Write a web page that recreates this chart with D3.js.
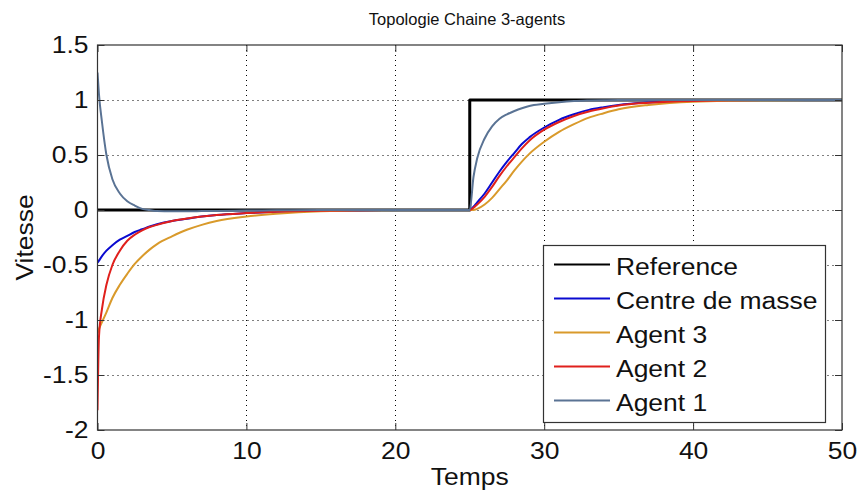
<!DOCTYPE html>
<html>
<head>
<meta charset="utf-8">
<script src="https://cdn.jsdelivr.net/npm/d3@7"></script>
<style>
  html, body { margin: 0; padding: 0; background: #fff; }
  svg { display: block; }
  text { font-family: "Liberation Sans", Arial, Helvetica, sans-serif; fill: #111; }
</style>
</head>
<body>
<svg id="chart" width="858" height="494"></svg>
<script>
// Simulation time samples (s)
const temps = [0, 0.1, 0.3, 0.6, 1, 1.5, 2, 2.5, 3, 3.5, 4, 5, 6, 7, 8, 10, 12, 15, 20, 25,
  25.25, 25.5, 26, 26.5, 27, 27.5, 28, 28.5, 29, 30, 31, 32, 33, 34, 35, 37, 40, 45, 50];

// Velocity of each trace at those instants
const agent1 = [1.25, 1.05, 0.8, 0.5, 0.28, 0.15, 0.08, 0.04, 0.01, 0, -0.01, -0.012, -0.012, -0.01, -0.008, -0.005, -0.003, 0, 0, 0,
  0.3, 0.47, 0.65, 0.76, 0.83, 0.87, 0.9, 0.925, 0.945, 0.965, 0.98, 0.99, 0.995, 0.998, 1, 1, 1, 1, 1];
const agent2 = [-1.82, -1.15, -0.9, -0.68, -0.5, -0.37, -0.28, -0.225, -0.185, -0.155, -0.135, -0.1, -0.078, -0.06, -0.045, -0.028, -0.016, -0.006, 0, 0,
  0.02, 0.05, 0.12, 0.21, 0.31, 0.4, 0.48, 0.56, 0.63, 0.73, 0.8, 0.855, 0.895, 0.925, 0.95, 0.975, 0.992, 1, 1];
const agent3 = [-1.12, -1.08, -1.02, -0.93, -0.8, -0.68, -0.58, -0.49, -0.42, -0.36, -0.31, -0.24, -0.18, -0.135, -0.1, -0.06, -0.035, -0.012, 0, 0,
  0, 0.01, 0.05, 0.11, 0.19, 0.27, 0.36, 0.44, 0.51, 0.62, 0.71, 0.78, 0.84, 0.88, 0.915, 0.955, 0.985, 0.998, 1];
const centreMasse = [-0.48, -0.46, -0.42, -0.37, -0.32, -0.27, -0.235, -0.2, -0.175, -0.15, -0.13, -0.1, -0.08, -0.06, -0.045, -0.028, -0.016, -0.006, 0, 0,
  0.03, 0.07, 0.15, 0.25, 0.35, 0.44, 0.52, 0.6, 0.66, 0.75, 0.82, 0.87, 0.91, 0.935, 0.955, 0.978, 0.993, 1, 1];

// Step reference: 0 until t = 25, then 1
const refTemps = [0, 25, 25, 50];
const refValeurs = [0, 0, 1, 1];

const xTicks = [0, 10, 20, 30, 40, 50];
const yTicks = [-2, -1.5, -1, -0.5, 0, 0.5, 1, 1.5];
const yTickLabels = ["-2", "-1.5", "-1", "-0.5", "0", "0.5", "1", "1.5"];

const titre = "Topologie Chaine 3-agents";
const labelX = "Temps";
const labelY = "Vitesse";

const seriesNames = ["Reference", "Centre de masse", "Agent 3", "Agent 2", "Agent 1"];
const seriesColors = ["#000000", "#0a0ad0", "#d99a2b", "#e0201c", "#5a7394"];

const series = [
  { name: seriesNames[0], color: seriesColors[0], width: 3, pts: refTemps.map((t, i) => [t, refValeurs[i]]) },
  { name: seriesNames[1], color: seriesColors[1], width: 2, pts: temps.map((t, i) => [t, centreMasse[i]]) },
  { name: seriesNames[2], color: seriesColors[2], width: 2, pts: temps.map((t, i) => [t, agent3[i]]) },
  { name: seriesNames[3], color: seriesColors[3], width: 2, pts: temps.map((t, i) => [t, agent2[i]]) },
  { name: seriesNames[4], color: seriesColors[4], width: 2, pts: temps.map((t, i) => [t, agent1[i]]) }
];

const svg = d3.select("#chart");
const m = { left: 97.5, right: 842, top: 45, bottom: 430 };

const x = d3.scaleLinear().domain([0, 50]).range([m.left, m.right]);
const y = d3.scaleLinear().domain([-2, 1.5]).range([m.bottom, m.top]);

// Dotted grid
const grid = svg.append("g").attr("stroke", "#000").attr("stroke-width", 1).attr("stroke-dasharray", "1,4");
grid.selectAll(".gx").data(xTicks.slice(1, -1)).join("line")
  .attr("x1", d => Math.round(x(d)) + 0.5).attr("x2", d => Math.round(x(d)) + 0.5)
  .attr("y1", m.top).attr("y2", m.bottom);
grid.selectAll(".gy").data(yTicks.slice(1, -1)).join("line")
  .attr("y1", d => Math.round(y(d)) + 0.5).attr("y2", d => Math.round(y(d)) + 0.5)
  .attr("x1", m.left).attr("x2", m.right);

// Data lines
const clip = svg.append("clipPath").attr("id", "plotclip").append("rect")
  .attr("x", m.left).attr("y", m.top).attr("width", m.right - m.left).attr("height", m.bottom - m.top);
const line = d3.line().x(d => x(d[0])).y(d => y(d[1])).curve(d3.curveMonotoneX);
const lineStep = d3.line().x(d => x(d[0])).y(d => y(d[1]));
svg.append("g").attr("clip-path", "url(#plotclip)")
  .selectAll("path").data(series).join("path")
  .attr("fill", "none")
  .attr("stroke", d => d.color)
  .attr("stroke-width", d => d.width)
  .attr("stroke-linejoin", "round")
  .attr("d", (d, i) => i === 0 ? lineStep(d.pts) : line(d.pts));

// Axes (inward ticks on all four sides)
const tickLen = 7;
const axisBottom = d3.axisBottom(x).tickValues(xTicks).tickSize(-tickLen).tickPadding(13).tickFormat(d3.format("d"));
const axisTop = d3.axisTop(x).tickValues(xTicks).tickSize(-tickLen).tickFormat("");
const axisLeft = d3.axisLeft(y).tickValues(yTicks).tickSize(-tickLen).tickPadding(9)
  .tickFormat((d, i) => yTickLabels[i]);
const axisRight = d3.axisRight(y).tickValues(yTicks).tickSize(-tickLen).tickFormat("");

function styleAxis(g) {
  g.select(".domain").remove();
  g.selectAll(".tick line").attr("stroke", "#333");
  g.selectAll(".tick text").attr("font-size", 23).attr("fill", "#111")
    .attr("font-family", '"Liberation Sans", Arial, sans-serif');
}
svg.append("g").attr("transform", `translate(0,${m.bottom})`).call(axisBottom).call(styleAxis);
svg.append("g").attr("transform", `translate(0,${m.top})`).call(axisTop).call(styleAxis);
svg.append("g").attr("transform", `translate(${m.left},0)`).call(axisLeft).call(styleAxis);
svg.append("g").attr("transform", `translate(${m.right},0)`).call(axisRight).call(styleAxis);

// Frame
svg.append("rect")
  .attr("x", m.left).attr("y", m.top).attr("width", m.right - m.left).attr("height", m.bottom - m.top)
  .attr("fill", "none").attr("stroke", "#333").attr("stroke-width", 1.2);

// Titles
svg.append("text").attr("x", 467).attr("y", 25).attr("text-anchor", "middle")
  .attr("font-size", 16.5).attr("class", "keep").text(titre);
svg.append("text").attr("x", (m.left + m.right) / 2).attr("y", 485).attr("text-anchor", "middle")
  .attr("font-size", 23).text(labelX);
svg.append("text").attr("transform", `translate(33,${(m.top + m.bottom) / 2}) rotate(-90)`)
  .attr("text-anchor", "middle").attr("font-size", 23).text(labelY);

// Legend
const lg = svg.append("g");
lg.append("rect").attr("x", 543.5).attr("y", 245.5).attr("width", 282).attr("height", 177)
  .attr("fill", "#fff").attr("stroke", "#333").attr("stroke-width", 1.2);
const rows = lg.selectAll("g.row").data(series).join("g")
  .attr("transform", (d, i) => `translate(0,${264.5 + i * 34})`);
rows.append("line").attr("x1", 554).attr("x2", 610).attr("y1", 0).attr("y2", 0)
  .attr("stroke", d => d.color).attr("stroke-width", 2.2);
rows.append("text").attr("x", 616).attr("y", 10).attr("font-size", 23).text(d => d.name);

// Widen the large labels slightly to the figure's glyph proportions
svg.selectAll("text").filter(function () { return !this.classList.contains("keep"); })
  .each(function () {
    const w = this.getComputedTextLength();
    if (w > 0) {
      d3.select(this).attr("textLength", w * 1.15).attr("lengthAdjust", "spacingAndGlyphs");
    }
  });
</script>
</body>
</html>
